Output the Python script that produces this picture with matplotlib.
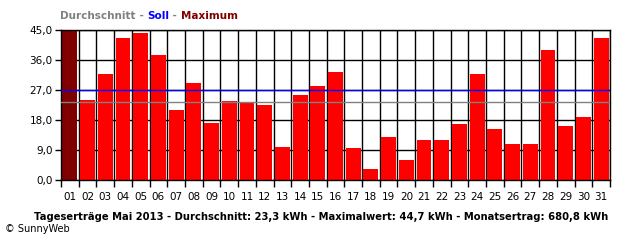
import numpy as np
import matplotlib.pyplot as plt

# Daily yields in kWh for May 2013
days = ["%02d" % d for d in range(1, 32)]
yields = [44.7, 24.0, 31.8, 42.6, 44.1, 37.5, 21.0, 29.1, 17.1, 23.7,
          23.4, 22.5, 9.9, 25.5, 28.2, 32.4, 9.6, 3.3, 12.9, 6.0,
          12.0, 12.0, 16.8, 31.8, 15.3, 10.8, 10.8, 39.0, 16.2, 18.9, 42.6]
average = 23.3
target = 27.0
y_ticks = [0, 9, 18, 27, 36, 45]

fig = plt.figure(figsize=(6.4, 2.4), dpi=100)
ax = fig.add_axes([61 / 640, 60 / 240, 549 / 640, 150 / 240])

x = np.arange(len(days))
i_max = int(np.argmax(yields))
colors = ["#ff0000"] * len(days)
colors[i_max] = "#800000"
ax.bar(x, yields, width=0.84, color=colors, zorder=2)

# reference lines
ax.axhline(average, color="#808080", lw=1.0, zorder=3)
ax.axhline(target, color="#0000ff", lw=1.0, zorder=3)

ax.set_xlim(-0.5, len(days) - 0.5)
ax.set_ylim(0, 45)

# grid
for yt in y_ticks:
    ax.axhline(yt, color="black", lw=1.0, zorder=1)
for b in np.arange(-0.5, len(days), 1.0):
    ax.axvline(b, color="black", lw=1.0, zorder=1)
for s in ax.spines.values():
    s.set_linewidth(1.0)

ax.set_yticks(y_ticks)
ax.set_yticklabels([("%.1f" % v).replace(".", ",") for v in y_ticks], fontsize=7.5)
ax.tick_params(axis="y", length=4, width=1, pad=2)

ax.set_xticks(x)
ax.set_xticklabels(days, fontsize=7.5)
ax.tick_params(axis="x", which="major", length=0, pad=9)
ax.set_xticks(np.arange(-0.5, len(days), 1.0), minor=True)
ax.tick_params(axis="x", which="minor", length=5, width=1)

# header legend, pieces placed one after another
renderer = fig.canvas.get_renderer()
parts = [("Durchschnitt", "#808080"), (" - ", "#808080"), ("Soll", "#0000ff"),
         (" - ", "#808080"), ("Maximum", "#800000")]
xpos = 60 / 640
for txt, col in parts:
    t = fig.text(xpos, 1 - 16 / 240, txt, color=col, fontsize=7.5,
                 fontweight="bold", va="center")
    w = t.get_window_extent(renderer).width
    xpos += w / 640

fig.text(321 / 640, 1 - 217 / 240,
         "Tageserträge Mai 2013 - Durchschnitt: 23,3 kWh - Maximalwert: 44,7 kWh - Monatsertrag: 680,8 kWh",
         fontsize=7.2, fontweight="bold", ha="center", va="center")
fig.text(5 / 640, 1 - 229 / 240, "© SunnyWeb", fontsize=7, va="center")

fig.savefig("out.png", dpi=100)
